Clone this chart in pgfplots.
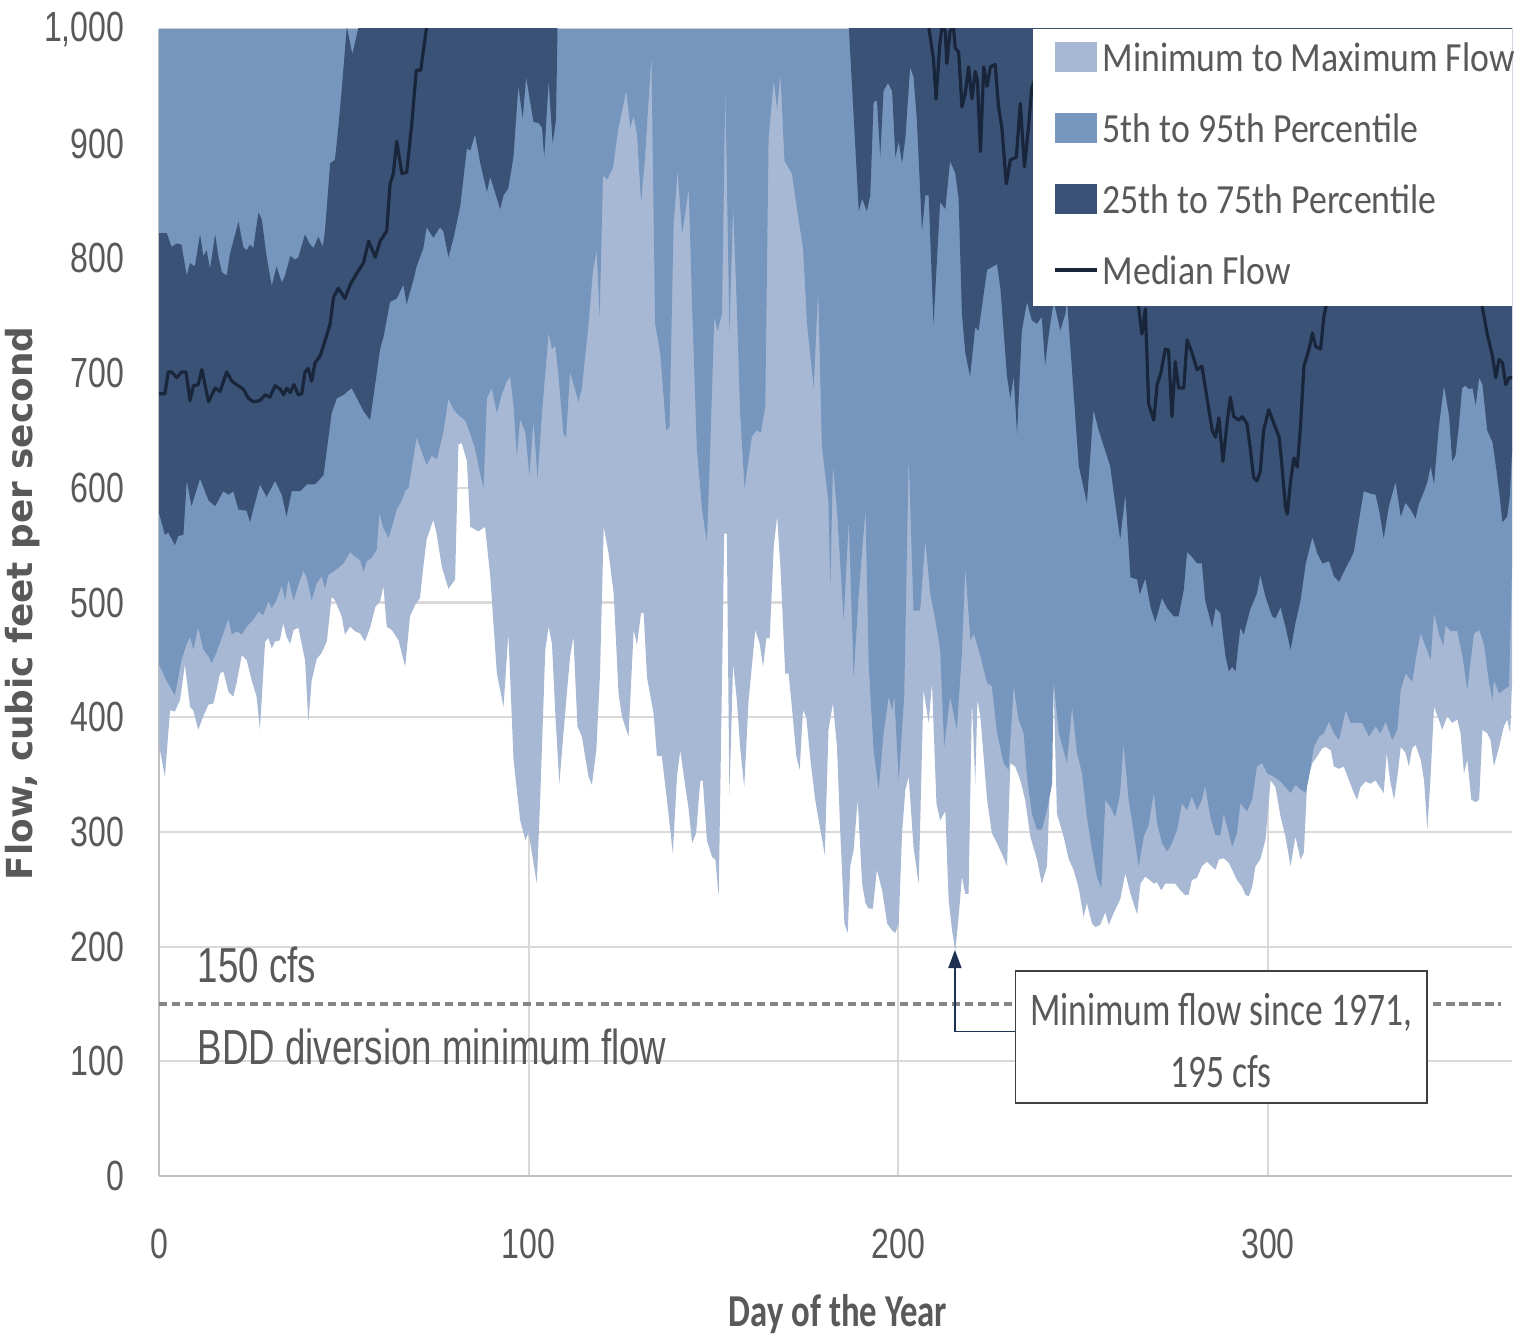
\documentclass[border=0pt]{standalone}
\usepackage{pgfplots}
\pgfplotsset{compat=1.18}
\usepgfplotslibrary{fillbetween}
\usetikzlibrary{arrows.meta}
\usepackage{fontspec}
\setmainfont{Carlito}
\newfontfamily\legfont[FakeStretch=0.862]{Carlito}
\newfontfamily\boxfont[FakeStretch=0.76]{Carlito}
\newfontfamily\xlabfont[FakeStretch=0.76]{Carlito}
\newfontfamily\tickfont[FakeStretch=0.76]{Liberation Sans}
\newfontfamily\notefont[FakeStretch=0.745]{Liberation Sans}
\newfontfamily\ylabfont{DejaVu Sans}

\definecolor{lightband}{HTML}{A7B8D4}
\definecolor{midband}{HTML}{7696BD}
\definecolor{darkband}{HTML}{395275}
\definecolor{medline}{HTML}{19253A}
\definecolor{textgray}{HTML}{595959}
\definecolor{gridgray}{HTML}{D9D9D9}
\definecolor{axisgray}{HTML}{BFBFBF}
\definecolor{dashgray}{HTML}{858585}
\definecolor{arrowblue}{HTML}{1F3150}
\definecolor{boxedge}{HTML}{404040}

\begin{document}
\begin{tikzpicture}
\begin{axis}[
  scale only axis,
  width=13.53cm, height=11.47cm,
  xmin=0, xmax=366, ymin=0, ymax=1000,
  axis x line*=bottom, axis y line*=left,
  axis line style={draw=axisgray, line width=0.7pt},
  xtick={0,100,200,300},
  ytick={0,100,...,1000},
  major tick length=0pt,
  grid=major,
  grid style={draw=gridgray, line width=0.6pt},
  /pgf/number format/assume math mode=true,
  /pgf/number format/1000 sep={,},
  ticklabel style={font=\tickfont\fontsize{12}{14}\selectfont, text=textgray, inner sep=0pt},
  yticklabel style={anchor=east, xshift=-3.4mm},
  xticklabel style={anchor=north, yshift=-5.2mm},
]

% off-chart reference level (values above 1,000 are clipped)
\addplot[draw=none, name path=topp] coordinates {(0,1000) (366,1000)};

% minimum flow
\addplot[draw=none, name path=minp] coordinates {
(0,376) (1.6,348) (3.0,406) (4.3,405) (5.7,415) (7.0,446) (8.4,409) (9.3,406) (10.6,389) (12.0,401)
(13.4,411) (14.7,412) (15.6,424) (16.5,438) (17.4,440) (18.8,422) (20.1,418) (21.0,430) (22.4,454) (23.7,450)
(25.1,432) (26.4,418) (27.3,389) (28.7,466) (29.6,469) (30.5,460) (31.4,466) (32.7,467) (33.6,482) (34.5,470)
(35.5,464) (36.4,476) (37.7,478) (39.5,450) (40.4,396) (41.3,432) (42.7,451) (44.0,456) (45.4,466) (46.7,505)
(47.6,502) (49.4,488) (50.3,472) (51.7,479) (53.0,475) (54.4,473) (55.7,466) (57.1,478) (58.5,496) (59.8,501)
(60.7,514) (61.6,479) (63.0,476) (64.8,467) (66.6,444) (67.9,488) (69.3,498) (70.6,504) (71.5,531) (72.4,555)
(74.2,572) (75.1,560) (76.5,531) (78.3,512) (80.1,520) (81.0,638) (81.9,639) (83.3,623) (84.2,566) (86.4,562)
(88.2,566) (89.6,523) (91.4,438) (93.2,409) (94.5,473) (95.9,363) (97.7,310) (99.1,293) (100.0,299) (102.2,255)
(103.1,328) (104.5,459) (105.4,479) (106.3,464) (107.2,403) (108.3,342) (109.4,386) (111.2,453) (112.1,470) (113.2,392)
(114.4,383) (116.2,348) (117.1,341) (118.3,371) (119.3,438) (120.3,566) (121.6,543) (123.0,508) (124.3,421) (125.2,401)
(127.0,383) (128.4,476) (129.3,463) (130.4,491) (131.1,491) (132.0,435) (133.8,403) (134.7,366) (136.0,366) (137.4,328)
(139.0,281) (140.1,348) (141.0,371) (142.4,339) (143.3,319) (144.2,290) (145.3,299) (146.4,344) (147.1,345) (148.2,293)
(149.6,278) (150.5,276) (151.4,244) (152.9,560) (153.6,560) (154.3,331) (155.3,447) (156.3,415) (157.2,374) (158.3,339)
(159.5,415) (161.3,476) (162.5,464) (163.4,444) (164.3,469) (165.2,469) (166.3,549) (167.2,575) (168.1,531) (169.4,438)
(170.3,438) (171.2,409) (172.4,366) (173.3,354) (174.2,406) (175.1,400) (176.2,363) (177.5,328) (178.9,302) (180.1,280)
(181.1,389) (182.3,412) (183.4,374) (184.3,299) (185.4,220) (186.3,212) (187.0,270) (187.9,284) (189.0,328) (190.2,255)
(191.1,238) (192.0,233) (193.1,233) (194.2,267) (195.6,249) (197.0,220) (198.3,214) (199.2,212) (200.1,220) (201.0,299)
(201.9,337) (202.8,348) (204.1,287) (205.5,255) (206.8,424) (208.2,395) (209.1,430) (210.3,325) (211.3,310) (212.7,318)
(213.6,241) (214.5,215) (215.4,196) (216.3,226) (217.2,261) (218.1,246) (219.0,246) (219.9,415) (220.8,342) (221.4,415)
(222.2,400) (224.0,328) (225.3,299) (226.7,290) (228.0,281) (229.4,270) (230.3,360) (231.6,357) (233.0,345) (234.3,328)
(235.7,296) (237.5,276) (238.8,255) (240.2,270) (242.0,427) (242.9,316) (244.7,296) (246.1,276) (247.4,267) (248.8,251)
(250.1,226) (251.0,238) (252.4,220) (253.3,217) (254.6,219) (256.0,230) (256.9,219) (258.2,229) (260.0,241) (261.4,264)
(262.8,246) (264.6,228) (265.5,255) (266.8,261) (268.0,258) (269.1,255) (270.0,256) (271.1,249) (272.2,255) (273.6,255)
(274.9,255) (276.3,249) (277.6,245) (278.5,245) (279.4,258) (280.8,260) (282.1,270) (283.5,274) (284.4,271) (285.8,267)
(286.7,276) (288.0,277) (289.4,273) (290.3,267) (291.6,258) (293.0,252) (293.9,245) (294.8,244) (295.7,252) (296.6,270)
(297.9,276) (299.3,293) (300.7,345) (302.0,339) (303.4,313) (304.7,296) (306.1,270) (307.4,296) (308.8,276) (309.7,282)
(310.6,345) (312.0,360) (313.3,366) (314.7,373) (315.6,374) (317.0,371) (317.8,357) (319.2,355) (320.5,357) (321.9,345)
(323.2,334) (324.1,328) (325.0,339) (326.4,344) (327.7,342) (329.1,345) (330.0,340) (331.3,334) (332.1,369) (333.0,345)
(334.1,328) (335.1,351) (335.9,374) (337.2,369) (338.1,357) (339.0,373) (339.9,376) (341.3,363) (342.2,345) (343.1,302)
(344.0,350) (344.9,409) (346.2,398) (347.1,389) (348.5,401) (349.8,395) (351.2,398) (352.1,386) (353.0,351) (353.9,363)
(355.0,328) (356.2,326) (357.1,328) (358.0,389) (359.3,386) (360.2,380) (361.1,357) (362.5,374) (363.8,392) (364.7,398)
(365.5,386) (366,430)
};

% 5th percentile
\addplot[draw=none, name path=p05] coordinates {
(0,446) (2.0,432) (4.3,419) (6.1,450) (7.5,464) (8.4,470) (9.3,459) (10.6,478) (12.0,459) (13.4,453)
(14.3,447) (15.6,457) (17.4,473) (18.8,486) (19.7,472) (21.0,475) (22.4,472) (23.7,479) (25.5,485) (26.9,492)
(28.2,489) (29.6,501) (30.5,495) (31.8,502) (33.2,515) (34.1,502) (35.0,520) (36.4,502) (37.7,515) (39.1,528)
(40.0,521) (41.3,502) (42.7,517) (44.0,523) (44.9,512) (45.8,524) (47.2,527) (48.5,530) (49.9,534) (51.7,544)
(53.0,540) (54.4,537) (55.3,527) (56.2,536) (57.5,539) (58.9,546) (59.6,578) (60.7,565) (62.1,556) (63.0,566)
(64.3,581) (65.7,589) (66.6,597) (67.5,600) (69.7,644) (71.1,631) (72.4,620) (73.8,628) (75.2,625) (77.0,650)
(78.3,678) (79.7,668) (81.5,662) (82.8,659) (84.2,647) (85.5,634) (86.9,612) (87.8,600) (88.7,678) (90.0,687)
(91.4,665) (92.7,681) (94.1,693) (95.0,697) (95.9,671) (96.8,628) (97.7,660) (99.1,648) (100.2,611) (101.3,659)
(102.4,608) (103.6,665) (105.4,735) (106.3,721) (107.2,724) (108.1,696) (109.4,647) (110.1,644) (111.2,701) (113.5,675)
(114.4,687) (116.2,743) (117.4,790) (118.4,807) (119.2,749) (120.1,872) (121.3,869) (122.8,879) (124.3,914) (126.4,946)
(127.5,914) (128.4,924) (129.3,908) (130.4,849) (131.5,889) (133.2,977) (134.2,743) (135.6,717) (137.2,650) (138.1,653)
(139.2,830) (140.3,877) (141.5,821) (143.3,861) (144.2,759) (145.5,634) (146.9,581) (148.2,553) (149.1,634) (150.2,749)
(151.1,737) (152.3,752) (153.2,950) (154.3,734) (155.3,846) (156.3,759) (157.2,665) (158.4,600) (160.4,645) (161.7,650)
(162.8,648) (164.0,671) (164.9,905) (166.3,955) (167.2,930) (168.1,961) (169.2,885) (171.2,874) (172.6,843) (174.2,809)
(175.3,743) (177.1,687) (178.3,774) (179.3,637) (181.1,587) (181.6,514) (182.3,620) (183.4,580) (185.2,485) (186.6,572)
(187.9,435) (189.3,508) (191.1,581) (192.0,444) (193.3,371) (194.7,337) (196.0,386) (197.4,418) (198.3,406) (198.9,418)
(200.1,345) (201.6,420) (202.8,628) (204.1,493) (205.9,493) (207.3,555) (208.6,508) (210.0,485) (211.3,459) (212.4,374)
(214.0,418) (215.8,389) (217.2,456) (218.1,531) (219.5,467) (220.4,473) (222.2,453) (224.0,430) (225.3,427) (226.7,386)
(228.5,360) (229.8,354) (231.2,427) (232.5,398) (233.9,386) (234.8,348) (236.1,316) (237.5,302) (238.8,302) (240.2,319)
(241.6,342) (242.0,432) (243.4,386) (245.6,360) (247.0,409) (248.3,369) (249.7,351) (251.0,313) (252.4,284) (253.7,261)
(254.9,251) (256.0,328) (257.3,322) (258.7,313) (260.0,334) (260.9,377) (262.3,328) (263.7,299) (265.0,270) (266.4,296)
(267.7,306) (269.1,334) (270.0,308) (271.3,290) (272.7,283) (274.0,290) (275.4,302) (276.7,325) (278.1,319) (279.4,331)
(280.8,319) (282.1,328) (283.0,340) (284.4,313) (285.8,297) (287.1,297) (288.0,316) (288.9,305) (290.3,287) (291.6,299)
(292.5,325) (294.3,318) (295.7,328) (297.0,357) (298.4,360) (299.8,351) (301.6,348) (303.4,344) (304.7,339) (306.1,334)
(307.4,341) (308.8,337) (310.2,334) (311.1,348) (312.4,374) (313.8,383) (315.1,386) (316.5,396) (317.8,386) (319.2,380)
(321.0,406) (322.3,395) (324.1,395) (325.5,395) (327.3,383) (329.1,392) (330.4,386) (331.8,396) (333.6,380) (335.0,389)
(335.9,424) (337.2,438) (339.0,431) (340.4,459) (341.3,473) (342.6,462) (344.0,450) (344.9,491) (346.2,473) (347.4,462)
(348.0,480) (349.4,475) (351.2,475) (352.6,453) (353.9,424) (355.7,473) (357.1,476) (358.4,464) (359.8,430) (360.7,415)
(361.1,432) (362.5,421) (363.8,424) (365.2,427) (366,530)
};

% 25th percentile
\addplot[draw=none, name path=p25] coordinates {
(0,578) (1.6,559) (2.5,561) (4.3,550) (5.2,558) (6.6,559) (7.5,606) (8.8,584) (11.1,608) (13.4,589)
(15.2,584) (17.4,597) (18.8,594) (20.1,597) (21.5,581) (23.7,580) (24.6,570) (27.3,603) (29.1,592) (31.4,606)
(33.2,594) (34.5,575) (35.9,597) (38.2,597) (40.0,603) (42.2,603) (44.5,611) (46.7,665) (48.1,678) (49.9,681)
(52.1,687) (55.3,667) (57.1,659) (58.9,700) (59.8,721) (60.7,731) (62.5,762) (64.3,765) (66.1,777) (67.0,760)
(68.8,781) (69.7,793) (71.5,809) (72.4,827) (74.2,818) (76.0,827) (76.9,824) (78.3,801) (79.7,818) (81.5,846)
(83.3,896) (84.2,894) (85.5,908) (86.9,883) (88.7,858) (89.6,871) (92.3,843) (93.2,855) (94.5,861) (95.9,889)
(97.2,950) (98.4,922) (99.3,958) (101.3,919) (102.7,918) (103.6,914) (104.2,888) (105.4,955) (106.5,900) (107.4,921)
(107.8,1002) (109,1100) (186,1100) (186.6,1002) (189.3,841) (190.2,852) (191.5,841) (192.4,855) (193.3,936) (194.2,938)
(195.1,889) (196.0,946) (197.2,953) (198.3,946) (199.2,888) (200.1,902) (201.0,883) (201.9,905) (203.2,967) (204.1,958)
(205.0,921) (206.4,824) (207.3,855) (208.2,855) (209.5,743) (211.3,849) (212.7,843) (214.0,885) (215.4,874) (216.3,852)
(217.2,752) (218.1,718) (219.4,697) (220.8,740) (221.7,737) (224.0,790) (226.7,795) (227.6,774) (229.4,697) (230.3,678)
(231.2,697) (232.1,647) (233.4,737) (234.8,762) (236.1,746) (237.5,743) (238.8,749) (239.7,707) (240.2,721) (241.1,743)
(242.0,762) (242.5,756) (243.8,737) (245.2,752) (245.6,765) (248.8,619) (251.0,587) (252.8,668) (254.2,650) (257.3,619)
(258.5,590) (260.0,555) (261.4,594) (262.8,522) (264.6,520) (265.3,507) (266.8,521) (268.2,496) (269.5,483) (270.4,493)
(271.3,504) (272.7,495) (274.5,488) (275.8,488) (277.2,511) (278.1,544) (279.4,540) (280.8,534) (282.1,534) (283.0,502)
(284.9,478) (285.8,495) (287.1,491) (288.5,453) (289.4,440) (290.3,444) (291.2,440) (292.5,478) (293.4,472) (295.2,494)
(297.0,508) (297.9,524) (299.3,505) (301.1,488) (302.0,486) (303.4,496) (304.7,479) (306.1,459) (307.4,482) (308.8,502)
(310.2,534) (312.0,557) (313.3,543) (314.7,534) (316.5,536) (317.8,523) (319.2,518) (321.0,530) (322.3,538) (323.2,544)
(324.6,572) (325.9,597) (327.7,595) (329.1,594) (330.0,581) (331.3,556) (332.7,584) (334.5,605) (335.9,575) (337.2,587)
(338.6,581) (339.9,573) (340.8,586) (342.2,597) (343.1,605) (344.0,619) (344.9,603) (346.2,653) (347.6,689) (349.0,662)
(349.8,623) (350.7,628) (351.6,653) (352.5,687) (353.4,689) (354.4,686) (355.3,687) (356.2,672) (357.1,696) (358.0,690)
(359.3,650) (360.7,640) (361.6,620) (362.5,597) (363.4,570) (364.7,575) (365.4,593) (366,631)
};

% 75th percentile
\addplot[draw=none, name path=p75] coordinates {
(0,822) (2.1,822) (3.4,810) (4.8,813) (6.1,812) (7.5,785) (8.4,796) (9.7,793) (11.1,821) (12.0,802)
(12.9,807) (13.8,791) (15.2,821) (16.1,801) (17.0,788) (18.3,785) (19.2,804) (21.5,832) (22.8,810) (23.7,807)
(24.6,812) (25.5,809) (26.9,840) (27.8,834) (29.1,802) (30.5,776) (31.8,793) (33.2,779) (34.1,785) (35.5,802)
(36.8,799) (37.7,801) (39.5,821) (40.7,813) (41.8,809) (43.1,819) (44.3,810) (44.9,824) (46.3,883) (47.6,886)
(48.5,914) (49.4,946) (50.8,1002) (52.3,978) (54.0,1002) (56,1100) (366,1100)
};

\addplot[fill=lightband, draw=none] fill between[of=minp and topp];
\addplot[fill=midband, draw=none] fill between[of=p05 and topp];
\addplot[fill=darkband, draw=none] fill between[of=p25 and p75];

% median flow
\addplot[medline, line width=0.9pt, line join=round] coordinates {
(0,682) (1.6,682) (2.5,701) (3.4,701) (4.8,696) (6.1,701) (7.3,701) (8.4,676) (9.3,689) (10.6,690)
(11.6,703) (13.4,675) (15.2,687) (16.5,684) (18.3,701) (19.7,693) (21.0,690) (22.8,686) (24.2,678) (25.5,675)
(27.3,676) (28.7,681) (30.0,679) (31.4,689) (32.8,686) (33.7,681) (34.6,687) (35.5,683) (36.5,690) (37.7,681)
(38.6,682) (39.5,701) (40.4,704) (41.3,693) (42.2,709) (43.6,715) (44.9,728) (46.3,743) (47.2,766) (48.5,774)
(50.3,765) (51.7,777) (53.5,787) (55.3,796) (56.7,815) (58.5,801) (59.8,815) (61.6,824) (62.5,865) (63.4,874)
(64.3,902) (65.7,874) (67.0,875) (68.4,918) (69.6,964) (70.8,964) (72.4,1002) (75,1100) (205,1100) (208.2,1002)
(209.5,974) (210.2,939) (211.2,986) (211.8,1002) (212.7,998) (213.1,970) (214.0,998) (214.9,1002) (215.4,983) (216.3,980)
(217.2,932) (218.1,944) (219.0,967) (219.9,939) (220.8,963) (221.4,955) (222.2,893) (223.1,967) (224.0,950) (224.9,967)
(226.2,969) (227.1,932) (228.0,914) (229.2,865) (230.3,886) (231.9,888) (233.0,935) (234.1,880) (235.2,914) (236.1,949)
(237.5,960) (245,900) (255,880) (262,820) (265.0,757) (265.9,734) (266.8,756) (267.7,673) (269.1,659) (270.0,690)
(271.0,700) (272.2,721) (273.1,720) (274.0,662) (274.9,710) (275.8,687) (277.2,687) (278.1,729) (279.4,718) (280.8,703)
(282.1,706) (283.5,678) (284.9,650) (285.8,644) (286.7,661) (287.8,623) (288.9,656) (289.8,679) (290.7,662) (292.1,659)
(293.0,662) (294.3,656) (295.2,634) (296.1,609) (297.0,606) (297.9,614) (298.8,650) (300.2,668) (301.6,656) (303.0,644)
(303.6,625) (304.7,584) (305.2,577) (306.1,606) (307.0,626) (307.9,618) (308.8,654) (309.7,706) (311.1,721) (312.0,735)
(312.9,723) (314.2,721) (315.1,749) (315.6,757) (320,800) (330,840) (340,850) (350,830) (357,780) (358.0,757)
(359.3,734) (360.7,715) (361.6,696) (362.5,712) (363.4,709) (364.3,690) (365.2,696) (366,696)
};

% 150 cfs diversion minimum
\addplot[dashgray, line width=1pt, dash pattern=on 2.3pt off 1.4pt] coordinates {(0,150) (363,150)};

\node[anchor=base west, inner sep=0, text=textgray, font=\notefont\fontsize{14}{16}\selectfont]
  at (axis cs:10.3,169) {150 cfs};
\node[anchor=base west, inner sep=0, text=textgray, font=\notefont\fontsize{14}{16}\selectfont]
  at (axis cs:10.3,97) {BDD diversion minimum flow};

\draw[arrowblue, line width=0.5pt, -{Triangle[length=1.8mm, width=1.3mm]}]
  (axis cs:231.7,126) -| (axis cs:215.3,197);
\draw[boxedge, line width=0.5pt, fill=white] (axis cs:231.7,63.6) rectangle (axis cs:342.9,178.7);
\node[anchor=base, inner sep=0, text=textgray, font=\boxfont\fontsize{13.3}{16}\selectfont]
  at (axis cs:287.3,131) {Minimum flow since 1971,};
\node[anchor=base, inner sep=0, text=textgray, font=\boxfont\fontsize{13.3}{16}\selectfont]
  at (axis cs:287.3,77) {195 cfs};
\end{axis}

% legend
\fill[white] (8.74,8.70) rectangle (13.53,11.47);
\fill[lightband] (8.96,11.04) rectangle (9.38,11.34);
\fill[midband] (8.96,10.33) rectangle (9.38,10.63);
\fill[darkband] (8.96,9.62) rectangle (9.38,9.92);
\draw[medline, line width=0.9pt] (8.96,9.06) -- (9.38,9.06);
\begin{scope}[every node/.style={anchor=west, inner sep=0, text=textgray, font=\legfont\fontsize{11.8}{14}\selectfont}]
\node at (9.43,11.19) {Minimum to Maximum Flow};
\node at (9.43,10.48) {5th to 95th Percentile};
\node at (9.43,9.77) {25th to 75th Percentile};
\node at (9.43,9.06) {Median Flow};
\end{scope}

% axis titles
\node[rotate=90, anchor=base, inner sep=0, text=textgray, font=\ylabfont\bfseries\fontsize{10.2}{12}\selectfont]
  at (-1.26,5.725) {Flow, cubic feet per second};
\node[anchor=base, inner sep=0, text=textgray, font=\xlabfont\bfseries\fontsize{13}{15}\selectfont]
  at (6.79,-1.50) {Day of the Year};

\pgfresetboundingbox
\path[use as bounding box] (-1.59,-1.64) rectangle (13.63,11.76);
\end{tikzpicture}
\end{document}
